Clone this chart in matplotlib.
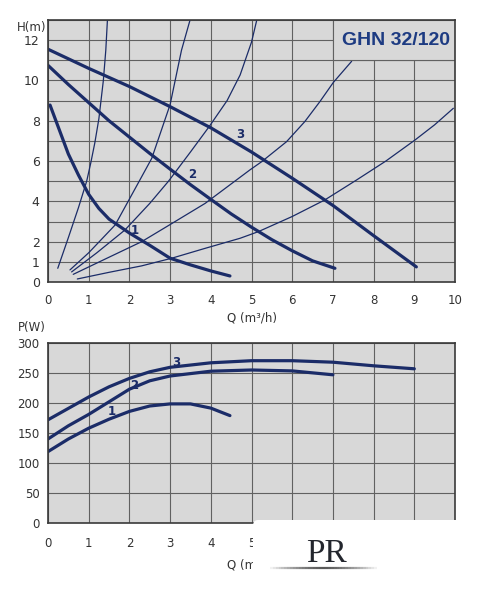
#!/usr/bin/env python
"""GHN 32/120 pump curves: head H(m) and power P(W) against flow Q."""

import matplotlib
matplotlib.use("Agg")
import matplotlib.pyplot as plt  # noqa: E402
from matplotlib.patches import Rectangle, FancyBboxPatch  # noqa: E402
from matplotlib.collections import LineCollection  # noqa: E402
import numpy as np  # noqa: E402

# ── head curves (speed 1, 2, 3) ──
h1_q = [0.05, 0.25, 0.5, 0.75, 1.0, 1.25, 1.5, 2.0, 2.5, 3.0, 3.5, 4.0, 4.47]
h1_h = [8.78, 7.7, 6.35, 5.3, 4.35, 3.65, 3.12, 2.43, 1.82, 1.18, 0.85, 0.55, 0.3]
h2_q = [0.0, 0.5, 1.0, 1.5, 2.0, 2.5, 3.0, 3.5, 4.0, 4.5, 5.0, 5.5, 6.0, 6.5, 7.05]
h2_h = [10.75, 9.8, 8.9, 8.0, 7.19, 6.38, 5.6, 4.83, 4.1, 3.38, 2.72, 2.1, 1.55, 1.05, 0.68]
h3_q = [0.0, 1.0, 2.0, 3.0, 4.0, 5.0, 6.0, 7.0, 8.0, 9.05]
h3_h = [11.55, 10.6, 9.7, 8.7, 7.65, 6.45, 5.15, 3.8, 2.3, 0.75]

# ── system curves (thin) ──
sys_a_q = [0.24, 0.5, 0.75, 0.95, 1.05, 1.15, 1.25, 1.36, 1.42, 1.46]
sys_a_h = [0.68, 2.2, 3.7, 5.0, 5.9, 6.9, 8.1, 10.0, 11.5, 13.0]
sys_b_q = [0.54, 1.0, 1.65, 2.2, 2.55, 3.0, 3.28, 3.49]
sys_b_h = [0.6, 1.45, 2.83, 4.85, 6.14, 8.8, 11.5, 13.0]
sys_c_q = [0.58, 1.2, 1.89, 2.5, 2.96, 3.5, 3.96, 4.4, 4.72, 5.0, 5.13]
sys_c_h = [0.5, 1.45, 2.58, 3.9, 5.0, 6.45, 7.71, 9.0, 10.27, 11.9, 13.0]
sys_d_q = [0.62, 1.5, 2.3, 3.0, 3.86, 4.96, 5.25, 5.86, 6.31, 6.68, 7.01, 7.46]
sys_d_h = [0.38, 1.23, 2.0, 2.85, 3.9, 5.56, 5.97, 6.96, 7.96, 8.95, 9.9, 10.95]
sys_e_q = [0.72, 1.5, 2.3, 3.04, 3.86, 4.72, 5.17, 6.0, 6.8, 7.58, 8.3, 9.02, 9.5, 9.96]
sys_e_h = [0.15, 0.48, 0.8, 1.18, 1.67, 2.17, 2.5, 3.25, 4.07, 5.06, 6.0, 7.05, 7.8, 8.62]

# ── power curves ──
p1_q = [0, 0.5, 1, 1.5, 2, 2.5, 3, 3.5, 4, 4.47]
p1_w = [119, 140, 158, 173, 186, 195, 198.5, 198.5, 191.5, 179]
p2_q = [0, 0.5, 1, 1.5, 2, 2.5, 3, 4, 5, 6, 7]
p2_w = [140, 162, 181, 202, 223, 237, 245, 253, 255, 253.5, 247]
p3_q = [0, 0.5, 1, 1.5, 2, 2.5, 3, 4, 5, 6, 7, 8, 9]
p3_w = [172, 191, 210, 227, 241, 252, 259.5, 267, 270.5, 270.5, 268, 262, 257]

h_ticks = [0, 1, 2, 4, 6, 8, 10, 12]
p_ticks = [0, 50, 100, 150, 200, 250, 300]
q_ticks = list(range(0, 11))

NAVY = "#1b2c68"
BG = "#d8d8d8"
GRID = "#616161"
TXT = "#333333"

W, H = 486, 590
fig = plt.figure(figsize=(W / 100, H / 100), dpi=100)


def px_axes(left, top, right, bottom):
    return fig.add_axes([left / W, 1 - bottom / H, (right - left) / W, (bottom - top) / H])


def style(ax, ylim, yticks, ygrid, xpad, ypad):
    ax.set_facecolor(BG)
    ax.set_xlim(0, 10)
    ax.set_ylim(*ylim)
    ax.set_xticks(q_ticks)
    ax.set_yticks(yticks)
    ax.set_yticks(ygrid, minor=True)
    ax.set_xticks(np.arange(0, 11), minor=True)
    ax.grid(True, which="both", color=GRID, lw=0.8)
    ax.set_axisbelow(True)
    ax.tick_params(which="both", length=0, colors=TXT, labelsize=8.5)
    ax.tick_params(axis="x", pad=xpad)
    ax.tick_params(axis="y", pad=ypad)
    for s in ax.spines.values():
        s.set_color("#3a3a3a")
        s.set_linewidth(1.2)


# ── head chart ──
ax1 = px_axes(48, 20, 455, 282)
style(ax1, (0, 13), h_ticks, np.arange(0, 14), 9, 6)
ax1.tick_params(axis="y", labelsize=9)
for q, h in [(sys_a_q, sys_a_h), (sys_b_q, sys_b_h), (sys_c_q, sys_c_h),
             (sys_d_q, sys_d_h), (sys_e_q, sys_e_h)]:
    ax1.plot(q, h, color=NAVY, lw=0.9, solid_capstyle="round", solid_joinstyle="round")
for q, h in [(h1_q, h1_h), (h2_q, h2_h), (h3_q, h3_h)]:
    ax1.plot(q, h, color=NAVY, lw=2.3, solid_capstyle="round", solid_joinstyle="round")
ax1.add_patch(Rectangle((7, 11), 3, 2, facecolor=BG, edgecolor=GRID, lw=0.8, zorder=2.5))
ax1.text(8.55, 12.0, "GHN 32/120", color="#1d3b82", fontsize=14, fontweight="bold",
         family="Liberation Sans", ha="center", va="center", zorder=3)
for lbl, x, y in [("1", 2.14, 2.55), ("2", 3.55, 5.34), ("3", 4.72, 7.3)]:
    ax1.text(x, y, lbl, color=NAVY, fontsize=8.5, fontweight="bold", ha="center", va="center")
ax1.set_xlabel("Q (m³/h)", fontsize=8.5, color=TXT, labelpad=3)
fig.text(32 / W, 1 - 27 / H, "H(m)", fontsize=8.5, color=TXT, ha="center", va="center")

# ── power chart ──
ax2 = px_axes(48, 343, 455, 523)
style(ax2, (0, 300), p_ticks, p_ticks, 10, 6)
for q, w in [(p1_q, p1_w), (p2_q, p2_w), (p3_q, p3_w)]:
    ax2.plot(q, w, color=NAVY, lw=2.3, solid_capstyle="round", solid_joinstyle="round")
for lbl, x, y in [("1", 1.56, 186), ("2", 2.12, 229), ("3", 3.15, 268)]:
    ax2.text(x, y, lbl, color=NAVY, fontsize=8.5, fontweight="bold", ha="center", va="center")
ax2.set_xlabel("Q (m³/h)", fontsize=8.5, color=TXT, labelpad=6)
fig.text(32 / W, 1 - 327 / H, "P(W)", fontsize=8.5, color=TXT, ha="center", va="center")
# tick labels 6..10 sit fully under the logo box
for t in ax2.get_xticklabels()[6:]:
    t.set_visible(False)

# ── logo box covering the lower right ──
cover = FancyBboxPatch((253 / W, 0), 212 / W, (H - 520) / H,
                       boxstyle="round,pad=0,rounding_size=0.01",
                       transform=fig.transFigure, facecolor="white", edgecolor="none",
                       zorder=10)
fig.patches.append(cover)
fig.text(326 / W, 1 - 554 / H, "PR", fontsize=24, family="Liberation Serif",
         color="#23262d", ha="center", va="center", zorder=11)
xs = np.linspace(267, 380, 40) / W
ys = np.full_like(xs, 1 - 568 / H)
segs = [[(xs[i], ys[i]), (xs[i + 1], ys[i + 1])] for i in range(len(xs) - 1)]
alpha = 1 - np.abs(np.linspace(-1, 1, len(segs))) ** 1.5
lc = LineCollection(segs, colors=[(0.35, 0.35, 0.35, a) for a in alpha], linewidths=1.6,
                    transform=fig.transFigure, zorder=11)
fig.add_artist(lc)

fig.savefig("out.png", dpi=100)
